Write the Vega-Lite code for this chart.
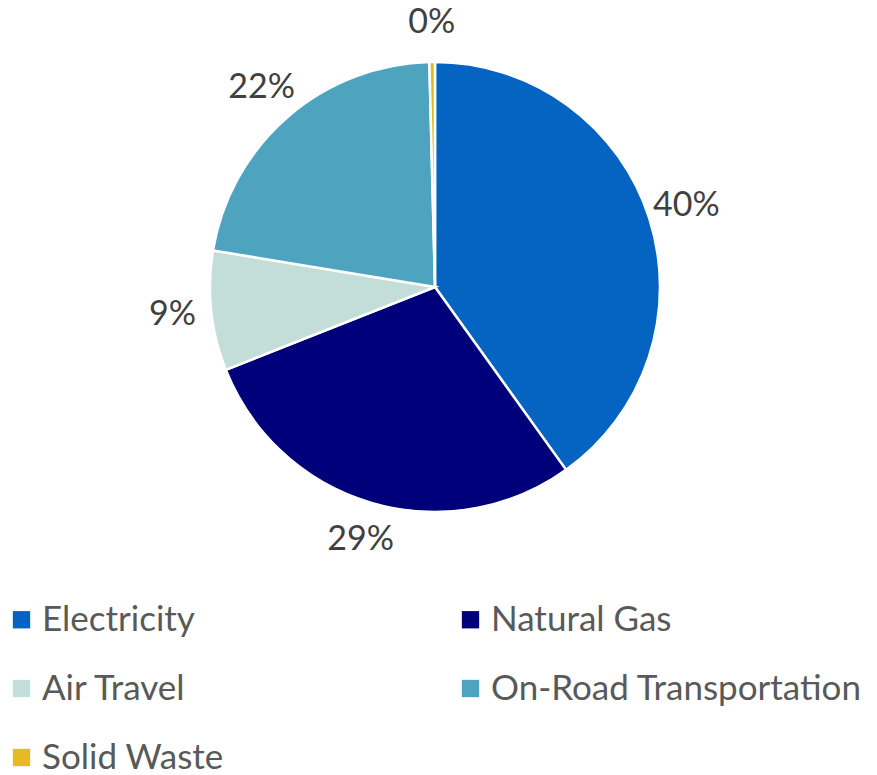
{
  "$schema": "https://vega.github.io/schema/vega-lite/v6.json",
  "width": 870,
  "height": 574,
  "padding": 0,
  "autosize": {"type": "pad"},
  "background": "white",
  "data": {
    "values": [
      {"idx": 1, "category": "Electricity", "value": 40.1, "label": "40%"},
      {"idx": 2, "category": "Natural Gas", "value": 28.9, "label": "29%"},
      {"idx": 3, "category": "Air Travel", "value": 8.6, "label": "9%"},
      {"idx": 4, "category": "On-Road Transportation", "value": 22.0, "label": "22%"},
      {"idx": 5, "category": "Solid Waste", "value": 0.4, "label": "0%"}
    ]
  },
  "encoding": {
    "theta": {"field": "value", "type": "quantitative", "stack": true},
    "order": {"field": "idx", "type": "quantitative"},
    "color": {
      "field": "category",
      "type": "nominal",
      "scale": {
        "domain": ["Electricity", "Natural Gas", "Air Travel", "On-Road Transportation", "Solid Waste"],
        "range": ["#0563C1", "#00007A", "#C3DDD9", "#4EA4BF", "#E5BA25"]
      },
      "legend": {
        "title": null,
        "orient": "none",
        "direction": "horizontal",
        "legendX": 4,
        "legendY": 602,
        "columns": 2,
        "symbolType": "square",
        "symbolSize": 300,
        "symbolStrokeWidth": 0,
        "labelFont": "Lato",
        "labelFontSize": 35,
        "labelColor": "#595959",
        "labelOffset": 3,
        "labelLimit": 600,
        "columnPadding": 229,
        "rowPadding": 33
      }
    }
  },
  "layer": [
    {
      "mark": {"type": "arc", "outerRadius": 225, "stroke": "white", "strokeWidth": 2.5}
    },
    {
      "mark": {"type": "text", "radius": 264, "font": "Lato", "fontSize": 34, "fill": "#404040"},
      "encoding": {
        "text": {"field": "label", "type": "nominal"},
        "color": {"value": "#404040"}
      }
    }
  ],
  "config": {"view": {"stroke": null}}
}
